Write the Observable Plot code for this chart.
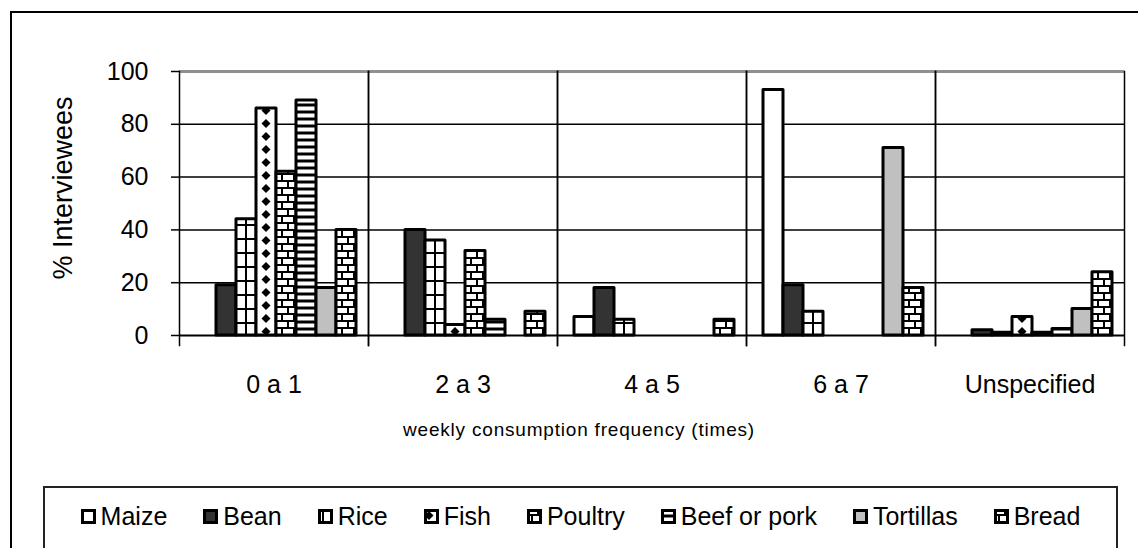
<!DOCTYPE html>
<html>
<head>
<meta charset="utf-8">
<script src="https://cdn.jsdelivr.net/npm/d3@7"></script>
<script src="https://cdn.jsdelivr.net/npm/@observablehq/plot@0.6"></script>
<style>
  body { margin: 0; background: #fff; font-family: "Liberation Sans", Arial, sans-serif; color: #000; }
  #wrap { position: relative; width: 1138px; height: 548px; overflow: hidden; background: #fff; }
  #outer { position: absolute; left: 10px; top: 11px; width: 1200px; height: 600px;
           border-left: 2px solid #000; border-top: 2px solid #000; }
  #chart { position: absolute; left: 0; top: 0; }
  #ytitle { position: absolute; left: 63px; top: 188px; transform: translate(-50%, -50%) rotate(-90deg);
            font-size: 27px; white-space: nowrap; }
  #xtitle { position: absolute; left: 579px; top: 430px; transform: translate(-50%, -50%);
            font-size: 19px; letter-spacing: 0.8px; white-space: nowrap; }
  #legend { position: absolute; left: 43px; top: 486px; width: 1075px; height: 64px; box-sizing: border-box;
            border: 2px solid #222; display: flex; align-items: center; justify-content: center;
            gap: 36px; font-size: 25px; padding-bottom: 4px; }
  .item { display: flex; align-items: center; gap: 5px; white-space: nowrap; }
  .item svg { display: block; }
</style>
</head>
<body>
<div id="wrap">
  <div id="outer"></div>
  <div id="chart"></div>
  <div id="ytitle">% Interviewees</div>
  <div id="xtitle">weekly consumption frequency (times)</div>
  <div id="legend"></div>
</div>
<script>
// Weekly consumption frequency classes and food items
const freqs = ["0 a 1", "2 a 3", "4 a 5", "6 a 7", "Unspecified"];
const foods = ["Maize", "Bean", "Rice", "Fish", "Poultry", "Beef or pork", "Tortillas", "Bread"];
const yTicks = [0, 20, 40, 60, 80, 100];

// % of interviewees per frequency class (null = no bar)
const maize     = [null, null, 7, 93, null];
const bean      = [19, 40, 18, 19, 2];
const rice      = [44, 36, 6, 9, 1];
const fish      = [86, 4, 0, null, 7];
const poultry   = [62, 32, 0, 0, 1];
const beefPork  = [89, 6, null, null, 2.5];
const tortillas = [18, null, null, 71, 10];
const bread     = [40, 9, 6, 18, 24];

const seriesByFood = [maize, bean, rice, fish, poultry, beefPork, tortillas, bread];

// Fill of each food series (solid colours or hatch patterns defined below)
const fills = ["#ffffff", "#333333", "url(#pat-rice)", "url(#pat-fish)",
               "url(#pat-brick)", "url(#pat-stripe)", "#c0c0c0", "url(#pat-brick)"];
const fillOf = new Map(foods.map((f, i) => [f, fills[i]]));

const rows = [];
freqs.forEach((freq, i) => {
  foods.forEach((food, j) => {
    const v = seriesByFood[j][i];
    if (v != null) rows.push({freq, food, value: v});
  });
});

const chart = Plot.plot({
  width: 1138,
  height: 470,
  marginTop: 71,
  marginRight: 13,
  marginBottom: 135,
  marginLeft: 178,
  style: {fontFamily: "'Liberation Sans', Arial, sans-serif", fontSize: "25px", color: "#000",
          background: "transparent", overflow: "visible"},
  fx: {domain: freqs, padding: 0},
  x: {domain: foods, paddingInner: 0, paddingOuter: 0.63, align: 0.58, axis: null},
  y: {domain: [0, 100]},
  color: {type: "identity"},
  marks: [
    Plot.gridY({ticks: [20, 40, 60, 80], stroke: "#000", strokeOpacity: 1, strokeWidth: 1.5}),
    Plot.ruleY([100], {stroke: "#8f8f8f", strokeWidth: 3}),
    Plot.frame({anchor: "left", stroke: "#000", strokeWidth: 1.5, insetBottom: -10}),
    Plot.frame({anchor: "right", stroke: "#000", strokeWidth: 1.5, insetBottom: -10}),
    Plot.ruleY([0], {stroke: "#000", strokeWidth: 2}),
    Plot.barY(rows, {
      fx: "freq", x: "food", y: "value",
      fill: d => fillOf.get(d.food),
      stroke: "#000", strokeWidth: 3, strokeLinejoin: "round"
    }),
    Plot.axisY({ticks: yTicks, tickSize: 8, tickPadding: 23, label: null, strokeWidth: 1.5, fontSize: 25}),
    Plot.axisFx({anchor: "bottom", tickSize: 0, tickPadding: 40, label: null, fontSize: 25})
  ]
});
document.getElementById("chart").append(chart);

// Hatch patterns, aligned to the band positions of the x scale
const xs = chart.scale("x");
const bw = xs.bandwidth;
const defs = d3.select("#wrap").append("svg")
  .attr("width", 0).attr("height", 0)
  .style("position", "absolute").style("left", 0).style("top", 0)
  .append("defs");

// Rice: large grid
const pr = defs.append("pattern").attr("id", "pat-rice").attr("patternUnits", "userSpaceOnUse")
  .attr("x", xs.apply("Rice")).attr("y", 0).attr("width", bw).attr("height", 14);
pr.append("rect").attr("width", bw).attr("height", 14).attr("fill", "#fff");
pr.append("rect").attr("x", bw / 2 - 1).attr("width", 2).attr("height", 14).attr("fill", "#000");
pr.append("rect").attr("y", 0).attr("width", bw).attr("height", 2).attr("fill", "#000");

// Fish: column of diamonds
const pf = defs.append("pattern").attr("id", "pat-fish").attr("patternUnits", "userSpaceOnUse")
  .attr("x", xs.apply("Fish")).attr("y", 0).attr("width", bw).attr("height", 13);
pf.append("rect").attr("width", bw).attr("height", 13).attr("fill", "#fff");
const cx = bw / 2;
pf.append("path").attr("d", `M${cx},2L${cx + 4.5},6.5L${cx},11L${cx - 4.5},6.5Z`).attr("fill", "#000");

// Poultry / Bread: brick
const pb = defs.append("pattern").attr("id", "pat-brick").attr("patternUnits", "userSpaceOnUse")
  .attr("x", 0).attr("y", 0).attr("width", 12).attr("height", 14);
pb.append("rect").attr("width", 12).attr("height", 14).attr("fill", "#000");
pb.append("rect").attr("x", 0).attr("y", 0).attr("width", 10).attr("height", 5).attr("fill", "#fff");
pb.append("rect").attr("x", 0).attr("y", 7).attr("width", 4).attr("height", 5).attr("fill", "#fff");
pb.append("rect").attr("x", 6).attr("y", 7).attr("width", 6).attr("height", 5).attr("fill", "#fff");

// Beef or pork: horizontal stripes
const ps = defs.append("pattern").attr("id", "pat-stripe").attr("patternUnits", "userSpaceOnUse")
  .attr("x", 0).attr("y", 0).attr("width", 10).attr("height", 7);
ps.append("rect").attr("width", 10).attr("height", 7).attr("fill", "#000");
ps.append("rect").attr("y", 1.5).attr("width", 10).attr("height", 4).attr("fill", "#fff");

// Legend
const items = d3.select("#legend").selectAll(".item").data(foods).join("div").attr("class", "item");
const sw = items.append("svg").attr("width", 15).attr("height", 15);
sw.append("rect").attr("x", 1.5).attr("y", 1.5).attr("width", 12).attr("height", 12)
  .attr("fill", d => fillOf.get(d)).attr("stroke", "#000").attr("stroke-width", 3);
items.append("span").text(d => d);
</script>
</body>
</html>
